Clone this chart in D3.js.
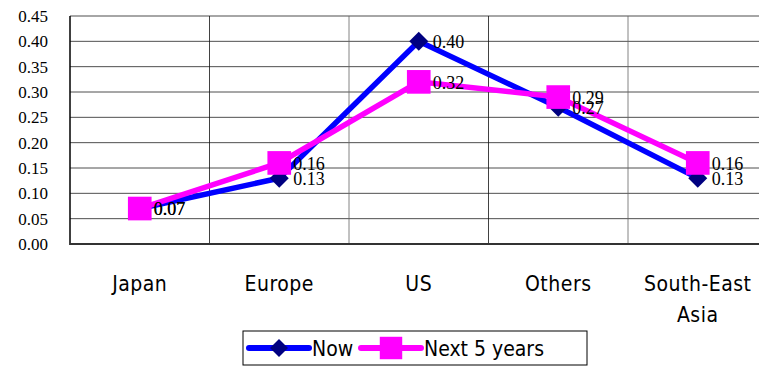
<!DOCTYPE html>
<html>
<head>
<meta charset="utf-8">
<script src="https://cdn.jsdelivr.net/npm/d3@7"></script>
<style>
  body { margin: 0; background: #fff; }
  svg { display: block; }
</style>
</head>
<body>
<svg></svg>
<script>
// data
var regions = ["Japan", "Europe", "US", "Others", "South-East Asia"];
var nowVals = [0.07, 0.13, 0.40, 0.27, 0.13];
var nextVals = [0.07, 0.16, 0.32, 0.29, 0.16];
var yTicks = [0, 0.05, 0.10, 0.15, 0.20, 0.25, 0.30, 0.35, 0.40, 0.45];

var width = 759, height = 366;
var plotL = 70, plotR = 767.5, plotT = 16, plotB = 244;

var svg = d3.select("svg")
    .attr("width", width)
    .attr("height", height);

var x = d3.scaleBand().domain(regions).range([plotL, plotR]).padding(0);
var y = d3.scaleLinear().domain([0, 0.45]).range([plotB, plotT]);
var cx = d => x(d) + x.bandwidth() / 2;

// grid
svg.append("g").selectAll("line")
  .data(yTicks.slice(1))
  .join("line")
    .attr("x1", plotL).attr("x2", plotR)
    .attr("y1", d => y(d)).attr("y2", d => y(d))
    .attr("stroke", d => d == 0.45 ? "#888" : "#222")
    .attr("stroke-width", d => d == 0.45 ? 1.5 : 0.8);

svg.append("g").selectAll("line")
  .data(regions.slice(1))
  .join("line")
    .attr("x1", d => x(d)).attr("x2", d => x(d))
    .attr("y1", plotT).attr("y2", plotB)
    .attr("stroke", (d, i) => i % 2 ? "#666" : "#111")
    .attr("stroke-width", 0.8);

// axes
svg.append("line").attr("x1", plotL).attr("x2", plotL).attr("y1", plotT).attr("y2", plotB + 1)
  .attr("stroke", "#000").attr("stroke-width", 1.5);
svg.append("line").attr("x1", plotL).attr("x2", plotR).attr("y1", plotB).attr("y2", plotB)
  .attr("stroke", "#333").attr("stroke-width", 2);

svg.append("g").selectAll("text")
  .data(yTicks)
  .join("text")
    .attr("x", 48).attr("y", d => y(d))
    .attr("dy", "0.35em")
    .attr("text-anchor", "end")
    .attr("font-family", "Liberation Serif")
    .attr("font-size", 17)
    .text(d => d.toFixed(2));

// category labels
var catFont = "DejaVu Sans";
svg.append("g").selectAll("text")
  .data(regions)
  .join("text")
    .attr("x", d => cx(d))
    .attr("y", 291)
    .attr("text-anchor", "middle")
    .attr("font-family", catFont)
    .attr("font-stretch", "condensed")
    .attr("font-size", 21)
    .attr("letter-spacing", 0.5)
    .each(function(d) {
      var t = d3.select(this);
      var parts = d == "South-East Asia" ? ["South-East", "Asia"] : [d];
      parts.forEach((p, i) => {
        t.append("tspan").attr("x", cx(d)).attr("dy", i ? 31 : 0).text(p);
      });
    });

// series
var series = [
  {name: "Now", vals: nowVals, line: "#0000ff", mark: "#000080", shape: d3.symbolDiamond2, size: 230},
  {name: "Next 5 years", vals: nextVals, line: "#ff00ff", mark: "#ff00ff", shape: d3.symbolSquare, size: 560}
];

series.forEach(s => {
  svg.append("path")
    .datum(s.vals)
    .attr("fill", "none")
    .attr("stroke", s.line)
    .attr("stroke-width", 5.5)
    .attr("d", d3.line().x((d, i) => cx(regions[i])).y(d => y(d)));
});

series.forEach(s => {
  svg.append("g").selectAll("path")
    .data(s.vals)
    .join("path")
      .attr("transform", (d, i) => `translate(${cx(regions[i])},${y(d)})`)
      .attr("fill", s.mark)
      .attr("d", d3.symbol().type(s.shape).size(s.size));
});

series.forEach(s => {
  svg.append("g").selectAll("text")
    .data(s.vals)
    .join("text")
      .attr("x", (d, i) => cx(regions[i]) + 14)
      .attr("y", d => y(d))
      .attr("dy", "0.38em")
      .attr("font-family", "Liberation Serif")
      .attr("font-size", 18)
      .text(d => d.toFixed(2));
});

// legend
var lg = svg.append("g");
lg.append("rect").attr("x", 243).attr("y", 331).attr("width", 344).attr("height", 34)
  .attr("fill", "#fff").attr("stroke", "#000").attr("stroke-width", 1);
var lx = [249, 361];
series.forEach((s, i) => {
  var g = lg.append("g").attr("transform", `translate(${lx[i]},348)`);
  g.append("line").attr("x1", 0).attr("x2", 60).attr("stroke", s.line)
    .attr("stroke-width", 6).attr("stroke-linecap", "round");
  g.append("path").attr("transform", "translate(30,0)").attr("fill", s.mark)
    .attr("d", d3.symbol().type(s.shape).size(s.size * 0.9));
  g.append("text").attr("x", 63).attr("y", 0).attr("dy", "0.38em")
    .attr("font-family", catFont).attr("font-stretch", "condensed")
    .attr("font-size", 21).text(s.name);
});
</script>
</body>
</html>
